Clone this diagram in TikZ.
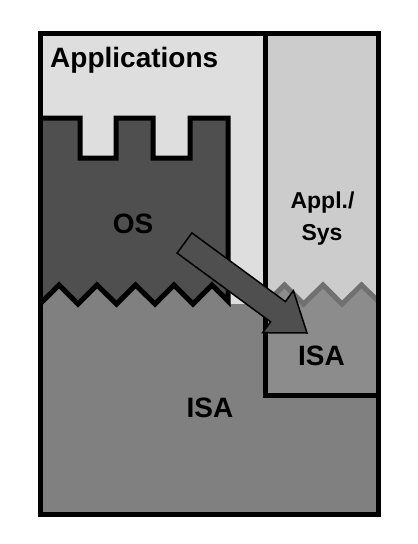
\documentclass[tikz,border=0pt]{standalone}
\usepackage{fontspec}
\setmainfont{Liberation Sans}
\definecolor{applbg}{HTML}{DEDEDE}
\definecolor{sysbg}{HTML}{CCCCCC}
\definecolor{osfill}{HTML}{4F4F4F}
\definecolor{isafill}{HTML}{808080}
\definecolor{isasfill}{HTML}{8C8C8C}
\definecolor{ziggray}{HTML}{707070}
\begin{document}
\begin{tikzpicture}[x=1pt,y=-1pt,
  border/.style={line width=5pt,black},
  bigtext/.style={font=\bfseries\fontsize{28}{33}\selectfont,inner sep=0pt,anchor=base},
  midtext/.style={font=\bfseries\fontsize{23}{28}\selectfont,inner sep=0pt,anchor=base}]
\useasboundingbox[fill=white] (0,0) rectangle (418,544);
% backgrounds
\fill[applbg] (40,33) rectangle (265,514);
\fill[sysbg] (265,33) rectangle (378,395);
% small ISA region (right column, below zigzag)
\fill[isasfill] (265,304)--(284.5,285)--(303.5,304)--(323,285)--(342,304)--(361.5,285)--(378,301)--(378,395)--(265,395)--cycle;
\draw[ziggray,line width=5pt] (265,304)--(284.5,285)--(303.5,304)--(323,285)--(342,304)--(361.5,285)--(378,301);
% big ISA region
\fill[isafill] (40,304)--(59,285)--(78,304)--(97,285)--(116.5,304)--(135.5,285)--(155,304)--(174,285)--(193,304)--(212,285)--(228,301)--(231,304)--(265,304)--(265,395)--(378,395)--(378,514)--(40,514)--cycle;
% OS castle
\fill[osfill] (40,118)--(80,118)--(80,158)--(116,158)--(116,118)--(153,118)--(153,158)--(190,158)--(190,118)--(228,118)--(228,301)--(212,285)--(193,304)--(174,285)--(155,304)--(135.5,285)--(116.5,304)--(97,285)--(78,304)--(59,285)--(40,304)--cycle;
\draw[border] (40,118)--(80,118)--(80,158)--(116,158)--(116,118)--(153,118)--(153,158)--(190,158)--(190,118)--(228,118)--(228,301)--(212,285)--(193,304)--(174,285)--(155,304)--(135.5,285)--(116.5,304)--(97,285)--(78,304)--(59,285)--(40,304);
% frame
\draw[border] (40,33) rectangle (378,514);
\draw[border] (265,33)--(265,395)--(378,395);
% block arrow
\draw[fill=osfill,line width=1.5pt,line join=miter] (191.9,232.9)--(285.4,301.6)--(293.4,290.7)--(307,333)--(262.6,332.7)--(270.6,321.8)--(177.1,253.1)--cycle;
% texts
\node[bigtext,anchor=base west] (appl) at (50,67) {Applications};
\node[bigtext] (os) at (133,233) {OS};
\node[midtext] (applsys) at (322.5,208) {Appl./};
\node[midtext] (sys) at (322,240) {Sys};
\node[bigtext] (isasmall) at (321.5,365) {ISA};
\node[bigtext] (isabig) at (210,417) {ISA};
\end{tikzpicture}
\end{document}
